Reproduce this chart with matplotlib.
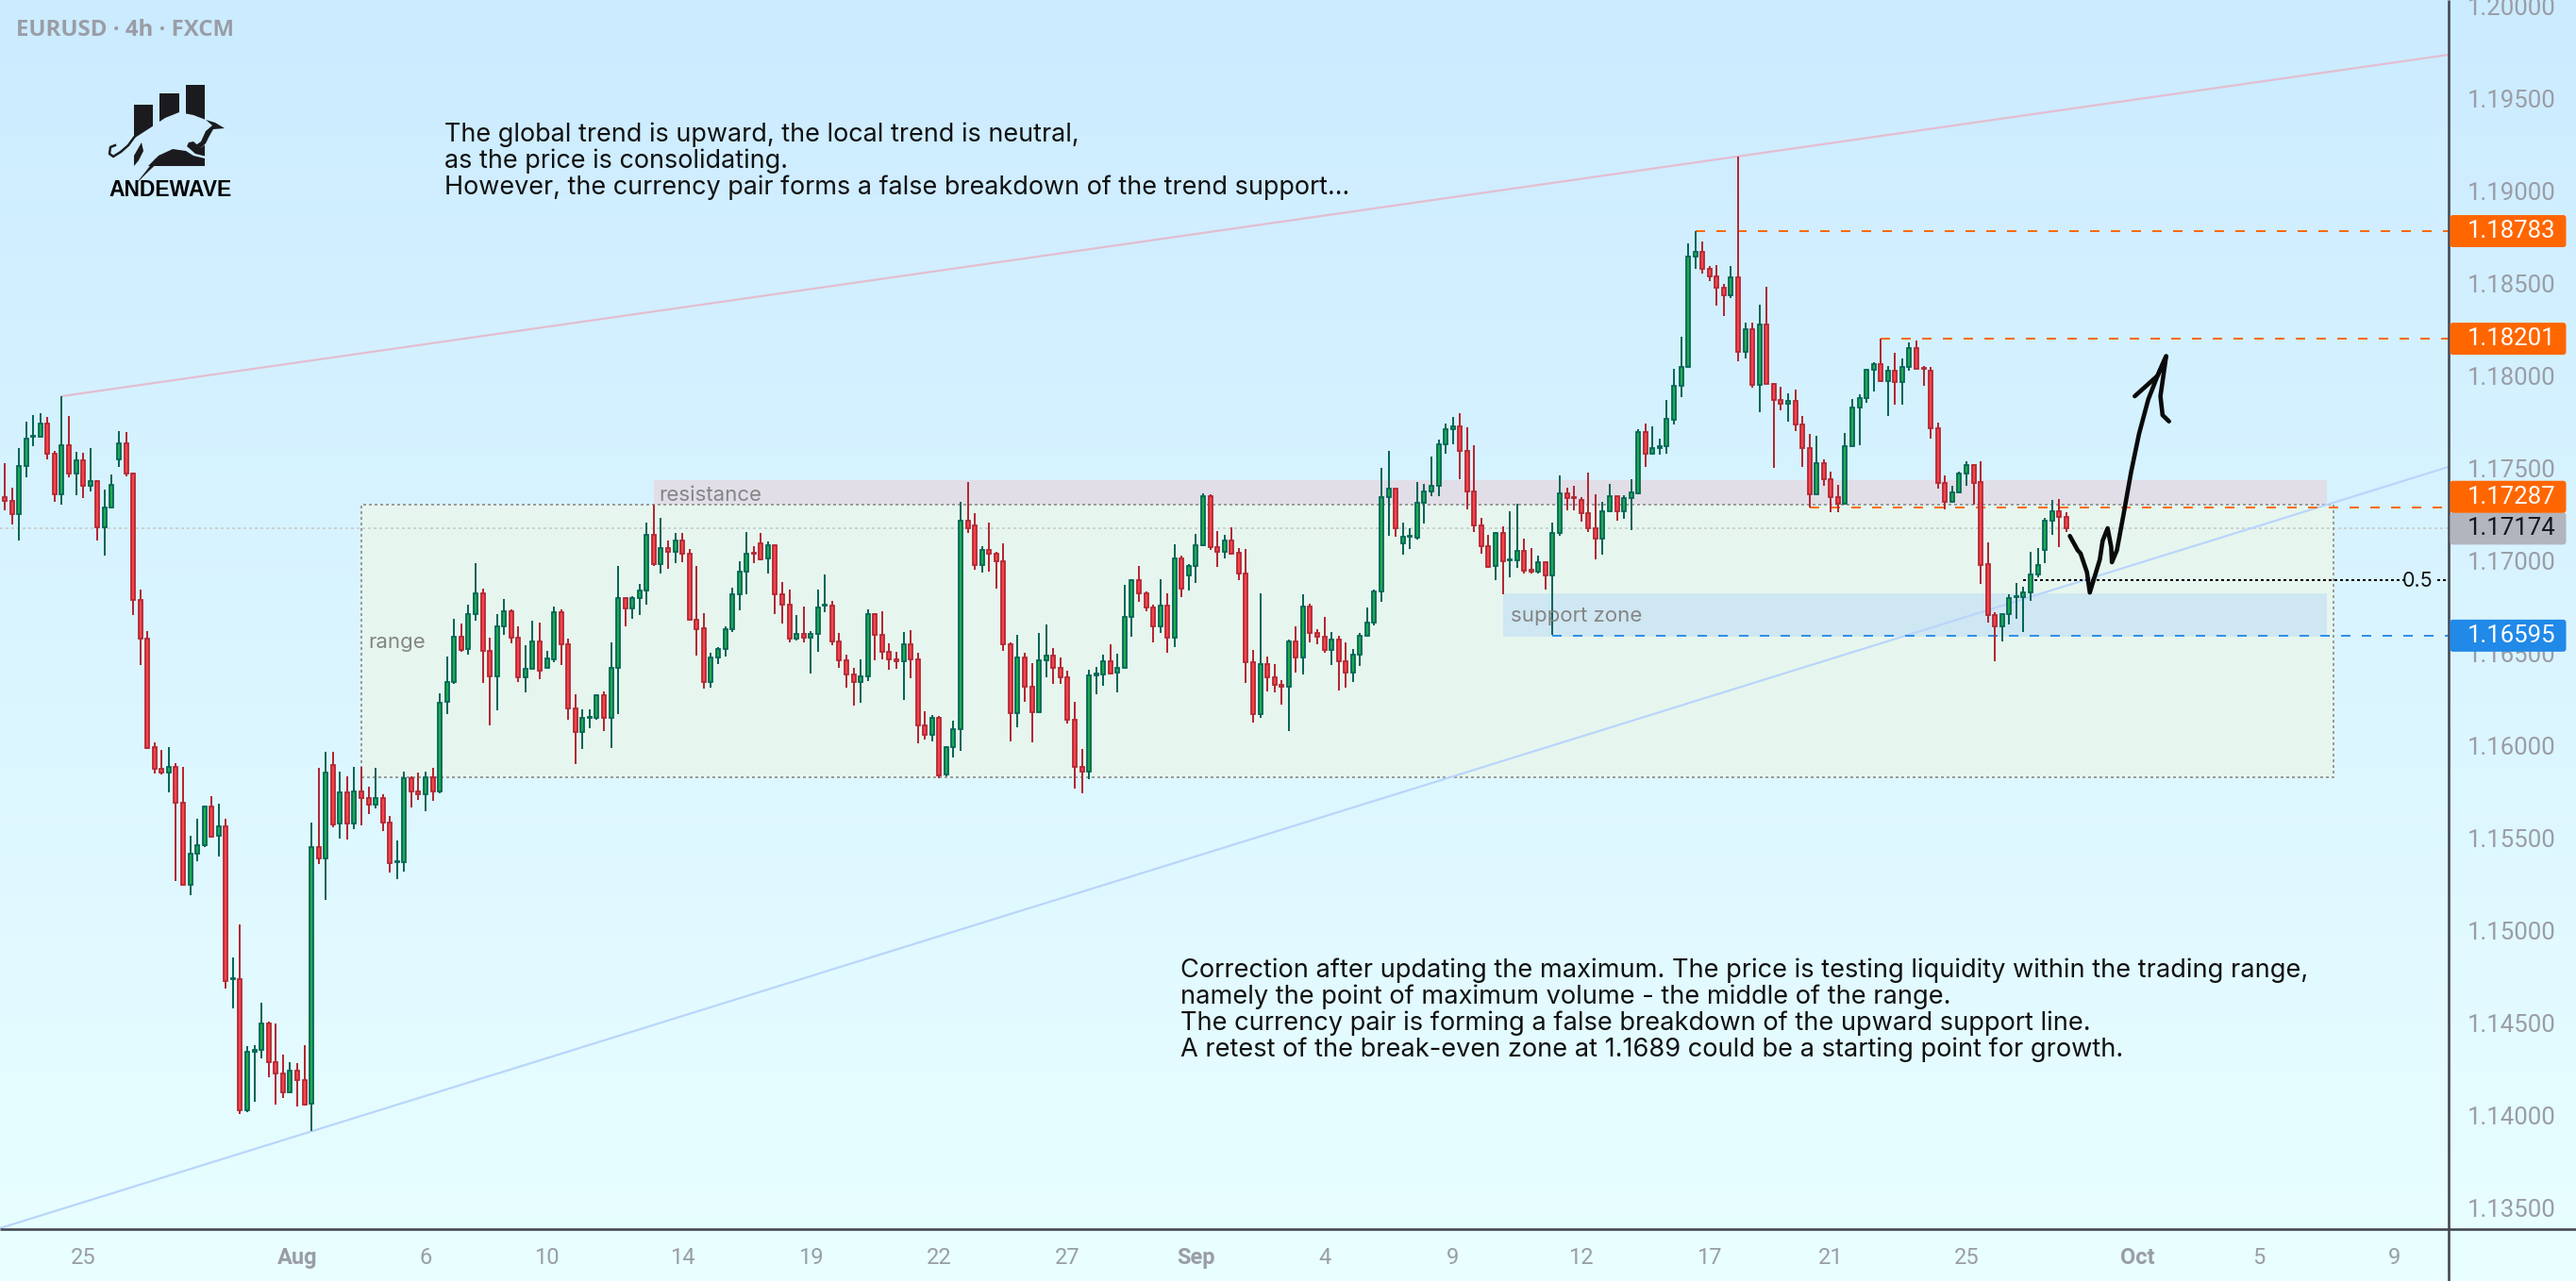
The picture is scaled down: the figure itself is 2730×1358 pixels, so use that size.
import numpy as np
import matplotlib
matplotlib.use('Agg')
import matplotlib.pyplot as plt
from matplotlib.collections import LineCollection
from matplotlib.colors import LinearSegmentedColormap
from matplotlib.patches import FancyBboxPatch, Polygon, Rectangle

# ── EURUSD 4h candles ─────────────────────────────────────────────────────────
highs = [
    1.17528, 1.17395, 1.17610, 1.17753, 1.17788, 1.17799, 1.17778, 1.17594, 1.17890, 1.17783,
    1.17589, 1.17584, 1.17610, 1.17436, 1.17385, 1.17467, 1.17702, 1.17696, 1.17477, 1.16844,
    1.16620, 1.16018, 1.15977, 1.15993, 1.15906, 1.15885, 1.15513, 1.15605, 1.15676, 1.15727,
    1.15686, 1.15605, 1.14855, 1.15033, 1.14375, 1.14380, 1.14610, 1.14508, 1.14498, 1.14329,
    1.14288, 1.14283, 1.14380, 1.15584, 1.15880, 1.15967, 1.15967, 1.15860, 1.15834, 1.15885,
    1.15885, 1.15778, 1.15880, 1.15737, 1.15620, 1.15487, 1.15860, 1.15834, 1.15854, 1.15860,
    1.15880, 1.16283, 1.16482, 1.16686, 1.16661, 1.16763, 1.16987, 1.16849, 1.16584, 1.16712,
    1.16793, 1.16737, 1.16645, 1.16543, 1.16676, 1.16666, 1.16513, 1.16752, 1.16737, 1.16579,
    1.16278, 1.16196, 1.16196, 1.16278, 1.16293, 1.16559, 1.16972, 1.16803, 1.16809, 1.16875,
    1.17207, 1.17303, 1.17232, 1.17110, 1.17150, 1.17150, 1.17064, 1.16972, 1.16717, 1.16502,
    1.16533, 1.16645, 1.16854, 1.16997, 1.17155, 1.17079, 1.17150, 1.17104, 1.17089, 1.16885,
    1.16844, 1.16706, 1.16752, 1.16620, 1.16844, 1.16926, 1.16783, 1.16610, 1.16492, 1.16421,
    1.16467, 1.16737, 1.16717, 1.16727, 1.16553, 1.16508, 1.16615, 1.16625, 1.16502, 1.16186,
    1.16166, 1.16161, 1.15997, 1.16135, 1.17319, 1.17426, 1.17258, 1.17079, 1.17207, 1.17048,
    1.17094, 1.16559, 1.16599, 1.16502, 1.16446, 1.16610, 1.16655, 1.16528, 1.16477, 1.16405,
    1.16237, 1.15982, 1.16411, 1.16426, 1.16492, 1.16548, 1.16497, 1.16870, 1.16900, 1.16972,
    1.16834, 1.16763, 1.16900, 1.16824, 1.17089, 1.17028, 1.16982, 1.17145, 1.17365, 1.17360,
    1.17161, 1.17140, 1.17181, 1.17069, 1.17064, 1.16518, 1.16824, 1.16482, 1.16441, 1.16354,
    1.16574, 1.16645, 1.16819, 1.16768, 1.16630, 1.16696, 1.16615, 1.16594, 1.16559, 1.16523,
    1.16610, 1.16747, 1.16844, 1.17502, 1.17594, 1.17390, 1.17207, 1.17176, 1.17426, 1.17416,
    1.17564, 1.17655, 1.17742, 1.17778, 1.17798, 1.17722, 1.17625, 1.17232, 1.17140, 1.17155,
    1.17186, 1.17268, 1.17309, 1.17120, 1.17069, 1.17028, 1.16997, 1.17207, 1.17462, 1.17395,
    1.17405, 1.17344, 1.17477, 1.17360, 1.17319, 1.17416, 1.17349, 1.17354, 1.17441, 1.17712,
    1.17742, 1.17727, 1.17661, 1.17870, 1.18038, 1.18212, 1.18717, 1.18783, 1.18727, 1.18594,
    1.18599, 1.18497, 1.18594, 1.19186, 1.18288, 1.18288, 1.18385, 1.18482, 1.17962, 1.17941,
    1.17905, 1.17926, 1.17783, 1.17686, 1.17676, 1.17548, 1.17482, 1.17411, 1.17691, 1.17875,
    1.17900, 1.18038, 1.18074, 1.18201, 1.18053, 1.18125, 1.18094, 1.18181, 1.18191, 1.18053,
    1.18048, 1.17747, 1.17462, 1.17405, 1.17482, 1.17538, 1.17523, 1.17538, 1.17099, 1.16722,
    1.16712, 1.16819, 1.16880, 1.16860, 1.17048, 1.17069, 1.17232, 1.17329, 1.17334, 1.17263,
]
body_tops = [
    1.17344, 1.17324, 1.17513, 1.17661, 1.17676, 1.17742, 1.17742, 1.17579, 1.17625, 1.17625,
    1.17543, 1.17543, 1.17431, 1.17431, 1.17288, 1.17411, 1.17635, 1.17635, 1.17472, 1.16788,
    1.16579, 1.15992, 1.15875, 1.15885, 1.15885, 1.15691, 1.15416, 1.15462, 1.15671, 1.15671,
    1.15564, 1.15564, 1.14742, 1.14737, 1.14344, 1.14355, 1.14497, 1.14497, 1.14288, 1.14227,
    1.14242, 1.14242, 1.14191, 1.15451, 1.15451, 1.15854, 1.15895, 1.15747, 1.15747, 1.15752,
    1.15752, 1.15717, 1.15717, 1.15717, 1.15584, 1.15375, 1.15824, 1.15824, 1.15752, 1.15829,
    1.15829, 1.16232, 1.16344, 1.16589, 1.16589, 1.16712, 1.16824, 1.16824, 1.16513, 1.16645,
    1.16727, 1.16727, 1.16584, 1.16416, 1.16564, 1.16564, 1.16472, 1.16722, 1.16722, 1.16548,
    1.16201, 1.16150, 1.16155, 1.16273, 1.16273, 1.16421, 1.16798, 1.16798, 1.16798, 1.16839,
    1.17140, 1.17140, 1.17069, 1.17069, 1.17110, 1.17110, 1.17038, 1.16681, 1.16635, 1.16477,
    1.16523, 1.16630, 1.16819, 1.16941, 1.17038, 1.17043, 1.17094, 1.17084, 1.17084, 1.16819,
    1.16763, 1.16604, 1.16604, 1.16604, 1.16747, 1.16763, 1.16758, 1.16564, 1.16462, 1.16385,
    1.16375, 1.16712, 1.16712, 1.16599, 1.16508, 1.16467, 1.16548, 1.16548, 1.16467, 1.16110,
    1.16150, 1.16150, 1.15992, 1.16089, 1.17217, 1.17217, 1.17191, 1.17059, 1.17059, 1.17038,
    1.16997, 1.16548, 1.16477, 1.16477, 1.16319, 1.16462, 1.16487, 1.16487, 1.16421, 1.16370,
    1.16140, 1.15885, 1.16380, 1.16390, 1.16457, 1.16457, 1.16421, 1.16696, 1.16895, 1.16895,
    1.16824, 1.16747, 1.16758, 1.16758, 1.17013, 1.17013, 1.16972, 1.17084, 1.17349, 1.17349,
    1.17074, 1.17110, 1.17110, 1.17043, 1.16931, 1.16451, 1.16441, 1.16441, 1.16370, 1.16329,
    1.16564, 1.16564, 1.16752, 1.16752, 1.16610, 1.16589, 1.16574, 1.16574, 1.16457, 1.16492,
    1.16594, 1.16666, 1.16834, 1.17344, 1.17390, 1.17390, 1.17130, 1.17135, 1.17314, 1.17375,
    1.17405, 1.17630, 1.17712, 1.17727, 1.17727, 1.17594, 1.17375, 1.17191, 1.17079, 1.17150,
    1.17150, 1.17008, 1.17053, 1.17053, 1.16951, 1.16992, 1.16992, 1.17150, 1.17365, 1.17365,
    1.17344, 1.17329, 1.17258, 1.17176, 1.17268, 1.17349, 1.17349, 1.17339, 1.17370, 1.17696,
    1.17696, 1.17610, 1.17620, 1.17768, 1.17946, 1.18048, 1.18645, 1.18671, 1.18671, 1.18579,
    1.18538, 1.18477, 1.18533, 1.18533, 1.18252, 1.18252, 1.18278, 1.18278, 1.17956, 1.17870,
    1.17865, 1.17865, 1.17737, 1.17610, 1.17528, 1.17528, 1.17441, 1.17344, 1.17620, 1.17829,
    1.17880, 1.18033, 1.18064, 1.18064, 1.18028, 1.18028, 1.18048, 1.18150, 1.18150, 1.18043,
    1.18028, 1.17717, 1.17421, 1.17370, 1.17472, 1.17518, 1.17518, 1.17426, 1.16982, 1.16706,
    1.16712, 1.16798, 1.16809, 1.16829, 1.16926, 1.16977, 1.17217, 1.17268, 1.17268, 1.17237,
]
body_bottoms = [
    1.17324, 1.17252, 1.17252, 1.17513, 1.17671, 1.17671, 1.17579, 1.17360, 1.17360, 1.17472,
    1.17472, 1.17405, 1.17405, 1.17181, 1.17181, 1.17288, 1.17548, 1.17472, 1.16788, 1.16579,
    1.15987, 1.15875, 1.15854, 1.15854, 1.15691, 1.15247, 1.15247, 1.15416, 1.15462, 1.15508,
    1.15513, 1.14727, 1.14737, 1.14028, 1.14028, 1.14344, 1.14355, 1.14288, 1.14227, 1.14125,
    1.14125, 1.14191, 1.14059, 1.14064, 1.15390, 1.15390, 1.15574, 1.15579, 1.15579, 1.15579,
    1.15717, 1.15681, 1.15681, 1.15584, 1.15365, 1.15370, 1.15370, 1.15752, 1.15737, 1.15737,
    1.15752, 1.15752, 1.16237, 1.16344, 1.16518, 1.16523, 1.16712, 1.16513, 1.16375, 1.16375,
    1.16645, 1.16584, 1.16370, 1.16370, 1.16416, 1.16405, 1.16421, 1.16467, 1.16548, 1.16201,
    1.16074, 1.16074, 1.16150, 1.16150, 1.16150, 1.16150, 1.16421, 1.16742, 1.16742, 1.16798,
    1.16839, 1.16982, 1.16982, 1.17048, 1.17048, 1.17038, 1.16681, 1.16630, 1.16344, 1.16344,
    1.16477, 1.16523, 1.16630, 1.16819, 1.16941, 1.17038, 1.17008, 1.17013, 1.16819, 1.16763,
    1.16579, 1.16579, 1.16584, 1.16584, 1.16604, 1.16758, 1.16564, 1.16462, 1.16385, 1.16344,
    1.16344, 1.16375, 1.16599, 1.16508, 1.16467, 1.16457, 1.16457, 1.16467, 1.16110, 1.16059,
    1.16059, 1.15839, 1.15844, 1.15992, 1.16089, 1.17176, 1.16977, 1.16977, 1.17038, 1.16997,
    1.16548, 1.16176, 1.16176, 1.16319, 1.16181, 1.16181, 1.16462, 1.16421, 1.16370, 1.16140,
    1.15885, 1.15860, 1.15860, 1.16380, 1.16385, 1.16390, 1.16395, 1.16421, 1.16696, 1.16824,
    1.16747, 1.16645, 1.16645, 1.16584, 1.16584, 1.16849, 1.16921, 1.16972, 1.17084, 1.17074,
    1.17048, 1.17048, 1.17038, 1.16931, 1.16451, 1.16171, 1.16171, 1.16370, 1.16329, 1.16319,
    1.16319, 1.16477, 1.16477, 1.16610, 1.16589, 1.16518, 1.16518, 1.16457, 1.16395, 1.16395,
    1.16492, 1.16594, 1.16666, 1.16834, 1.17344, 1.17176, 1.17094, 1.17130, 1.17125, 1.17314,
    1.17375, 1.17405, 1.17630, 1.17712, 1.17594, 1.17375, 1.17191, 1.17079, 1.16967, 1.16972,
    1.16997, 1.17002, 1.17002, 1.16946, 1.16941, 1.16941, 1.16921, 1.16921, 1.17150, 1.17339,
    1.17339, 1.17258, 1.17176, 1.17120, 1.17120, 1.17268, 1.17268, 1.17268, 1.17339, 1.17365,
    1.17579, 1.17579, 1.17610, 1.17620, 1.17763, 1.17946, 1.18048, 1.18645, 1.18579, 1.18538,
    1.18477, 1.18436, 1.18436, 1.18130, 1.18130, 1.17951, 1.17951, 1.17956, 1.17870, 1.17849,
    1.17849, 1.17737, 1.17610, 1.17360, 1.17360, 1.17441, 1.17344, 1.17309, 1.17309, 1.17620,
    1.17829, 1.17880, 1.18033, 1.17972, 1.17972, 1.17967, 1.17967, 1.18048, 1.18038, 1.18038,
    1.17717, 1.17421, 1.17319, 1.17319, 1.17370, 1.17472, 1.17421, 1.16977, 1.16706, 1.16645,
    1.16645, 1.16712, 1.16803, 1.16803, 1.16829, 1.16926, 1.17059, 1.17217, 1.17237, 1.17174,
]
lows = [
    1.17273, 1.17196, 1.17110, 1.17451, 1.17620, 1.17671, 1.17548, 1.17319, 1.17303, 1.17451,
    1.17354, 1.17339, 1.17375, 1.17110, 1.17028, 1.17288, 1.17508, 1.17456, 1.16706, 1.16436,
    1.15982, 1.15849, 1.15844, 1.15747, 1.15268, 1.15247, 1.15191, 1.15375, 1.15451, 1.15502,
    1.15400, 1.14686, 1.14579, 1.14008, 1.14018, 1.14074, 1.14309, 1.14207, 1.14059, 1.14094,
    1.14125, 1.14048, 1.14053, 1.13916, 1.15360, 1.15166, 1.15559, 1.15497, 1.15492, 1.15548,
    1.15569, 1.15630, 1.15661, 1.15538, 1.15314, 1.15278, 1.15319, 1.15666, 1.15707, 1.15645,
    1.15701, 1.15742, 1.16171, 1.16334, 1.16508, 1.16492, 1.16676, 1.16339, 1.16110, 1.16191,
    1.16599, 1.16553, 1.16344, 1.16288, 1.16416, 1.16360, 1.16421, 1.16451, 1.16436, 1.16140,
    1.15900, 1.15982, 1.16094, 1.16140, 1.16079, 1.15987, 1.16171, 1.16645, 1.16686, 1.16706,
    1.16763, 1.16972, 1.16931, 1.16956, 1.16987, 1.16992, 1.16681, 1.16487, 1.16309, 1.16314,
    1.16441, 1.16482, 1.16615, 1.16732, 1.16819, 1.16987, 1.17002, 1.16931, 1.16712, 1.16661,
    1.16559, 1.16569, 1.16559, 1.16390, 1.16508, 1.16722, 1.16543, 1.16421, 1.16314, 1.16217,
    1.16232, 1.16349, 1.16462, 1.16467, 1.16411, 1.16416, 1.16247, 1.16365, 1.16013, 1.16033,
    1.16023, 1.15824, 1.15834, 1.15936, 1.15972, 1.17150, 1.16951, 1.16936, 1.16941, 1.16849,
    1.16513, 1.16023, 1.16099, 1.16237, 1.16018, 1.16181, 1.16370, 1.16334, 1.16334, 1.16120,
    1.15768, 1.15742, 1.15819, 1.16278, 1.16324, 1.16385, 1.16288, 1.16421, 1.16589, 1.16778,
    1.16727, 1.16559, 1.16610, 1.16502, 1.16533, 1.16803, 1.16839, 1.16880, 1.17079, 1.17059,
    1.16967, 1.17013, 1.17033, 1.16895, 1.16339, 1.16125, 1.16150, 1.16293, 1.16288, 1.16222,
    1.16079, 1.16395, 1.16385, 1.16559, 1.16548, 1.16502, 1.16436, 1.16298, 1.16314, 1.16344,
    1.16431, 1.16594, 1.16650, 1.16778, 1.17135, 1.17130, 1.17033, 1.17064, 1.17115, 1.17201,
    1.17349, 1.17349, 1.17579, 1.17630, 1.17441, 1.17278, 1.17155, 1.17038, 1.16962, 1.16895,
    1.16819, 1.16911, 1.16962, 1.16931, 1.16931, 1.16931, 1.16844, 1.16599, 1.17135, 1.17273,
    1.17273, 1.17212, 1.17155, 1.17008, 1.17033, 1.17268, 1.17217, 1.17227, 1.17166, 1.17360,
    1.17508, 1.17579, 1.17574, 1.17579, 1.17737, 1.17885, 1.18048, 1.18579, 1.18553, 1.18513,
    1.18380, 1.18324, 1.18421, 1.18079, 1.18094, 1.17936, 1.17803, 1.17956, 1.17502, 1.17814,
    1.17752, 1.17701, 1.17508, 1.17288, 1.17360, 1.17405, 1.17263, 1.17263, 1.17303, 1.17620,
    1.17625, 1.17854, 1.17916, 1.17967, 1.17783, 1.17844, 1.17844, 1.18028, 1.18038, 1.17946,
    1.17661, 1.17390, 1.17278, 1.17319, 1.17365, 1.17405, 1.17303, 1.16875, 1.16666, 1.16457,
    1.16564, 1.16655, 1.16686, 1.16615, 1.16783, 1.16911, 1.16987, 1.17140, 1.17074, 1.17155,
]
# one letter per candle: U closed up, D closed down
directions = (
    'DDUUUUDDUD' 'UDUDUUUDDD' 'DDDUDDUUUD' 'UDUDUUUDDD' 'UDDUDUDUDU' 'DDUDDUUDDU'
    'DUUUDUUDDU' 'UDDUUDUUDD' 'DUUUDUUDUU' 'UDUDUDDDDU' 'UUUUUDDUDD' 'DUDUUUDDDD'
    'UUDDDDUDDD' 'UDUUUDDUDD' 'DDUDDUUDDD' 'DDUUUDUUUD' 'DDUDUDUUUD' 'DUDDDDUDDD'
    'UDUDDDUDDU' 'UUUUUDUUUU' 'UUUUDDDDDU' 'DUUDDUDUUD' 'DDDDUUDUUU' 'DUUUUUUUDD'
    'DDUDUDUDDD' 'UDDDUDDDUU' 'UUUDUDUUDD' 'DDDUUUDDDD' 'UUUUUUUUDD'
)

# ── Axis labels ───────────────────────────────────────────────────────────────
price_ticks = [1.135, 1.14, 1.145, 1.15, 1.155, 1.16, 1.165, 1.17,
               1.175, 1.18, 1.185, 1.19, 1.195, 1.20]
date_bars = [11, 41, 59, 76, 95, 113, 131, 149, 167, 185, 203, 221, 239, 256,
             275, 299, 316, 335]
date_labels = ['25', 'Aug', '6', '10', '14', '19', '22', '27', 'Sep', '4', '9',
               '12', '17', '21', '25', 'Oct', '5', '9']
month_labels = ['Aug', 'Sep', 'Oct']

# ── Levels and zones ──────────────────────────────────────────────────────────
last_price = 1.17174
level_prices = [1.18783, 1.18201, 1.17287, 1.16595]
level_start_bars = [237, 263, 253, 217]
level_colors = ['#ff6a00', '#ff6a00', '#ff6a00', '#2f8fe8']
tag_colors = ['#ff6600', '#ff6600', '#ff6600', '#2189e8']
# the 1.17287 tag is pushed up so it clears the last-price tag
tag_nudges = [0, 0, -11.5, 0]
half_range_price = 1.16893

range_bars = (50.0, 326.4)
range_prices = (1.15829, 1.17303)
zone_bars = (91.0, 325.5)
resistance_prices = (1.17303, 1.17436)
support_bars = (210.0, 325.5)
support_prices = (1.16589, 1.16824)

upper_trend_bars = [8, 342.6]
upper_trend_prices = [1.17890, 1.19737]
lower_trend_bars = [-0.66, 342.6]
lower_trend_prices = [1.13390, 1.17508]

# freehand projection of the next swing, then the two strokes of its arrow head
path_bars = [289.5, 290.6, 291.0, 291.9, 292.3, 293.7, 294.1, 294.8, 295.3, 295.4,
             296.1, 297.0, 298.1, 299.2, 300.5, 301.8, 303.0]
path_prices = [1.17134, 1.17057, 1.17040, 1.16938, 1.16828, 1.17006, 1.17108, 1.17176,
               1.17074, 1.16992, 1.17057, 1.17244, 1.17482, 1.17686, 1.17873, 1.18001,
               1.18106]
head_bars = [298.6, 301.8, 303.0, 302.2, 302.5, 303.4]
head_prices = [1.17890, 1.18001, 1.18106, 1.17890, 1.17788, 1.17754]

note_top = ['The global trend is upward, the local trend is neutral,',
            'as the price is consolidating.',
            'However, the currency pair forms a false breakdown of the trend support...']
note_bottom = ['Correction after updating the maximum. The price is testing liquidity within the trading range,',
               'namely the point of maximum volume - the middle of the range.',
               'The currency pair is forming a false breakdown of the upward support line.',
               'A retest of the break-even zone at 1.1689 could be a starting point for growth.']

# ── Figure and panes ──────────────────────────────────────────────────────────
W, H = 2730, 1358
AXIS_X, AXIS_Y = 2595, 1303
PX = 72 / 100  # points per pixel at dpi 100

plt.rcParams['font.family'] = ['Inter', 'DejaVu Sans']
fig = plt.figure(figsize=(W / 100, H / 100), dpi=100)

bg = fig.add_axes([0, 0, 1, 1], zorder=-1)
bg.imshow(np.linspace(0, 1, 256).reshape(-1, 1), aspect='auto',
          cmap=LinearSegmentedColormap.from_list('sky', ['#cbebff', '#e9ffff']))
bg.axis('off')

ax = fig.add_axes([0, (H - AXIS_Y) / H, AXIS_X / W, AXIS_Y / H], zorder=1)
ax.patch.set_alpha(0)
ax.set_xlim(-0.66, 342.6)
ax.set_ylim(1.13385, 1.20033)
for spine in ax.spines.values():
    spine.set_visible(False)

ax.yaxis.tick_right()
ax.set_yticks(price_ticks)
ax.set_yticklabels([f'{p:.5f}' for p in price_ticks], family='Roboto', fontsize=18.5,
                   color='#9a9da6')
ax.tick_params(axis='y', length=0, pad=20 * PX)
ax.set_xticks(date_bars)
ax.set_xticklabels(date_labels, family='Roboto', fontsize=17, color='#9a9da6')
for lbl in ax.get_xticklabels():
    if lbl.get_text() in month_labels:
        lbl.set_fontweight('bold')
ax.tick_params(axis='x', length=0, pad=19 * PX)

# zones
ax.add_patch(Rectangle((range_bars[0], range_prices[0]), range_bars[1] - range_bars[0],
                       range_prices[1] - range_prices[0], fc='#e6f6ee', ec='none', zorder=1))
ax.add_patch(Rectangle((zone_bars[0], resistance_prices[0]), zone_bars[1] - zone_bars[0],
                       resistance_prices[1] - resistance_prices[0], fc='#e1dee8', ec='none', zorder=1.1))
ax.add_patch(Rectangle((support_bars[0], support_prices[0]), support_bars[1] - support_bars[0],
                       support_prices[1] - support_prices[0], fc='#cfe7f2', ec='none', zorder=1.1))

dots = (0, (1.5, 1.5))
box_x = [range_bars[0], range_bars[1], range_bars[1], range_bars[0], range_bars[0]]
box_y = [range_prices[0], range_prices[0], range_prices[1], range_prices[1], range_prices[0]]
ax.plot(box_x, box_y, color='#9b9b9b', lw=2 * PX, ls=dots, zorder=1.5)

# last price line and trend lines
ax.axhline(last_price, color='#c9d2d4', lw=2 * PX, ls=dots, zorder=1.4)
ax.plot(upper_trend_bars, upper_trend_prices, color='#e3bdd0', lw=2.2 * PX, zorder=1.6)
ax.plot(lower_trend_bars, lower_trend_prices, color='#b9d5fb', lw=2.2 * PX, zorder=1.6)

# candles
bars = np.arange(len(highs))
up = np.array([c == 'U' for c in directions])
highs_a, lows_a = np.array(highs), np.array(lows)
tops_a, bottoms_a = np.array(body_tops), np.array(body_bottoms)

segs = [[(b, lo), (b, hi)] for b, lo, hi in zip(bars, lows_a, highs_a)]
wick_colors = ['#056656' if u else '#b22833' for u in up]
ax.add_collection(LineCollection(segs, colors=wick_colors, linewidths=2 * PX, zorder=3))

body_w = 4.0 / 7.56
ax.bar(bars[up], (tops_a - bottoms_a)[up], bottom=bottoms_a[up], width=body_w,
       color='#1fab50', edgecolor='#056656', linewidth=1.8 * PX, zorder=3.1)
ax.bar(bars[~up], (tops_a - bottoms_a)[~up], bottom=bottoms_a[~up], width=body_w,
       color='#f8444c', edgecolor='#b22833', linewidth=1.8 * PX, zorder=3.1)

# horizontal levels
for price, start, col in zip(level_prices, level_start_bars, level_colors):
    ax.plot([start, 342.6], [price, price], color=col, lw=2 * PX, ls=(0, (5, 6)), zorder=2.8)

# 0.5 line, broken by its label
ax.plot([283, 336.4], [half_range_price] * 2, color='black', lw=2 * PX, ls=dots, zorder=2.5)
ax.plot([341.0, 342.6], [half_range_price] * 2, color='black', lw=2 * PX, ls=dots, zorder=2.5)

# hand-drawn projection
ax.plot(path_bars, path_prices, color='#0a0a0a', lw=4.6 * PX, solid_joinstyle='round',
        solid_capstyle='round', zorder=4)
ax.plot(head_bars, head_prices, color='#0a0a0a', lw=4.6 * PX, solid_joinstyle='round',
        solid_capstyle='round', zorder=4)

# ── Overlay in pixel coordinates: frame, tags, labels, logo ───────────────────
ov = fig.add_axes([0, 0, 1, 1], zorder=5)
ov.set_xlim(0, W)
ov.set_ylim(H, 0)
ov.axis('off')
ov.patch.set_alpha(0)

ov.plot([0, W], [AXIS_Y, AXIS_Y], color='#434651', lw=2.6 * PX, solid_capstyle='butt')
ov.plot([AXIS_X, AXIS_X], [0, H], color='#434651', lw=2.6 * PX, solid_capstyle='butt')


def price_row(price):
    """Pixel row of a price on the main pane."""
    disp = ax.transData.transform((0, price))[1]
    return H - disp


def price_tag(price, face, ink, nudge=0):
    y = price_row(price) + nudge
    ov.add_patch(FancyBboxPatch((AXIS_X + 1.5, y - 17), 123, 34,
                                boxstyle='round,pad=0,rounding_size=3',
                                fc=face, ec='none', zorder=6))
    ov.text(2615, y, f'{price:.5f}', family='Roboto', fontsize=18.5, color=ink,
            va='center', ha='left', zorder=7)


price_tag(last_price, '#b2b5be', '#131722')
for price, col, nudge in zip(level_prices, tag_colors, tag_nudges):
    price_tag(price, col, 'white', nudge)

ov.text(17, 32, 'EURUSD · 4h · FXCM', family='Open Sans', fontweight='bold', fontsize=17.3,
        color='#9a9da6', va='center', ha='left')

for row, line in zip([143, 171, 199], note_top):
    ov.text(471, row, line, fontsize=19.45, color='#111111', va='center', ha='left')
for row, line in zip([1029, 1057, 1085, 1113], note_bottom):
    ov.text(1251, row, line, fontsize=19.6, color='#111111', va='center', ha='left')

ov.text(390, 681, 'range', fontsize=16, color='#858585', va='center', ha='left', zorder=4)
ov.text(698, 525, 'resistance', fontsize=16, color='#858585', va='center', ha='left', zorder=4)
ov.text(1601, 653, 'support zone', fontsize=16, color='#858585', va='center', ha='left', zorder=4)
ov.text(2562, 616, '0.5', fontsize=15.5, color='#111111', va='center', ha='center')

# logo: three bars with a leaping bull cut out of them
logo_ink = '#1b1b1f'
for x0, x1, top in [(142, 162, 111), (169, 190, 99), (197, 217, 90)]:
    ov.add_patch(Rectangle((x0, top), x1 - x0, 176 - top, fc=logo_ink, ec='none'))
ov.add_patch(Polygon([(140, 148), (160, 135), (175, 125), (190, 119), (205, 122), (218, 127),
                      (224, 134), (222, 145), (219, 152), (213, 157), (205, 150), (200, 151),
                      (198, 155), (207, 163), (219, 166), (219, 178), (140, 178)],
                     fc='#cdecff', ec='none'))
ov.add_patch(Polygon([(157, 176), (168, 165), (183, 158), (197, 160), (205, 165), (217, 168),
                      (217, 176)], fc=logo_ink, ec='none'))
ov.add_patch(Polygon([(142, 165), (150, 151), (152, 160), (147, 170), (142, 176)],
                     fc=logo_ink, ec='none'))
ov.add_patch(Polygon([(218, 127), (228, 130), (238, 136), (226, 137), (222, 144), (218, 152),
                      (213, 157), (206, 155), (213, 150), (218, 139), (225, 133)],
                     fc=logo_ink, ec='none'))
ov.add_patch(Polygon([(143, 196), (155, 181), (165, 168), (172, 168), (158, 181)],
                     fc=logo_ink, ec='none'))
ov.plot([144, 136, 128, 120, 116, 117, 122], [143, 154, 161, 166, 163, 156, 154],
        color=logo_ink, lw=2.5 * PX)
ov.text(181, 202, 'ANDEWAVE', family='Liberation Sans', fontweight='bold', fontsize=16.5,
        color='black', va='center', ha='center')

fig.savefig('out.png', dpi=100)
